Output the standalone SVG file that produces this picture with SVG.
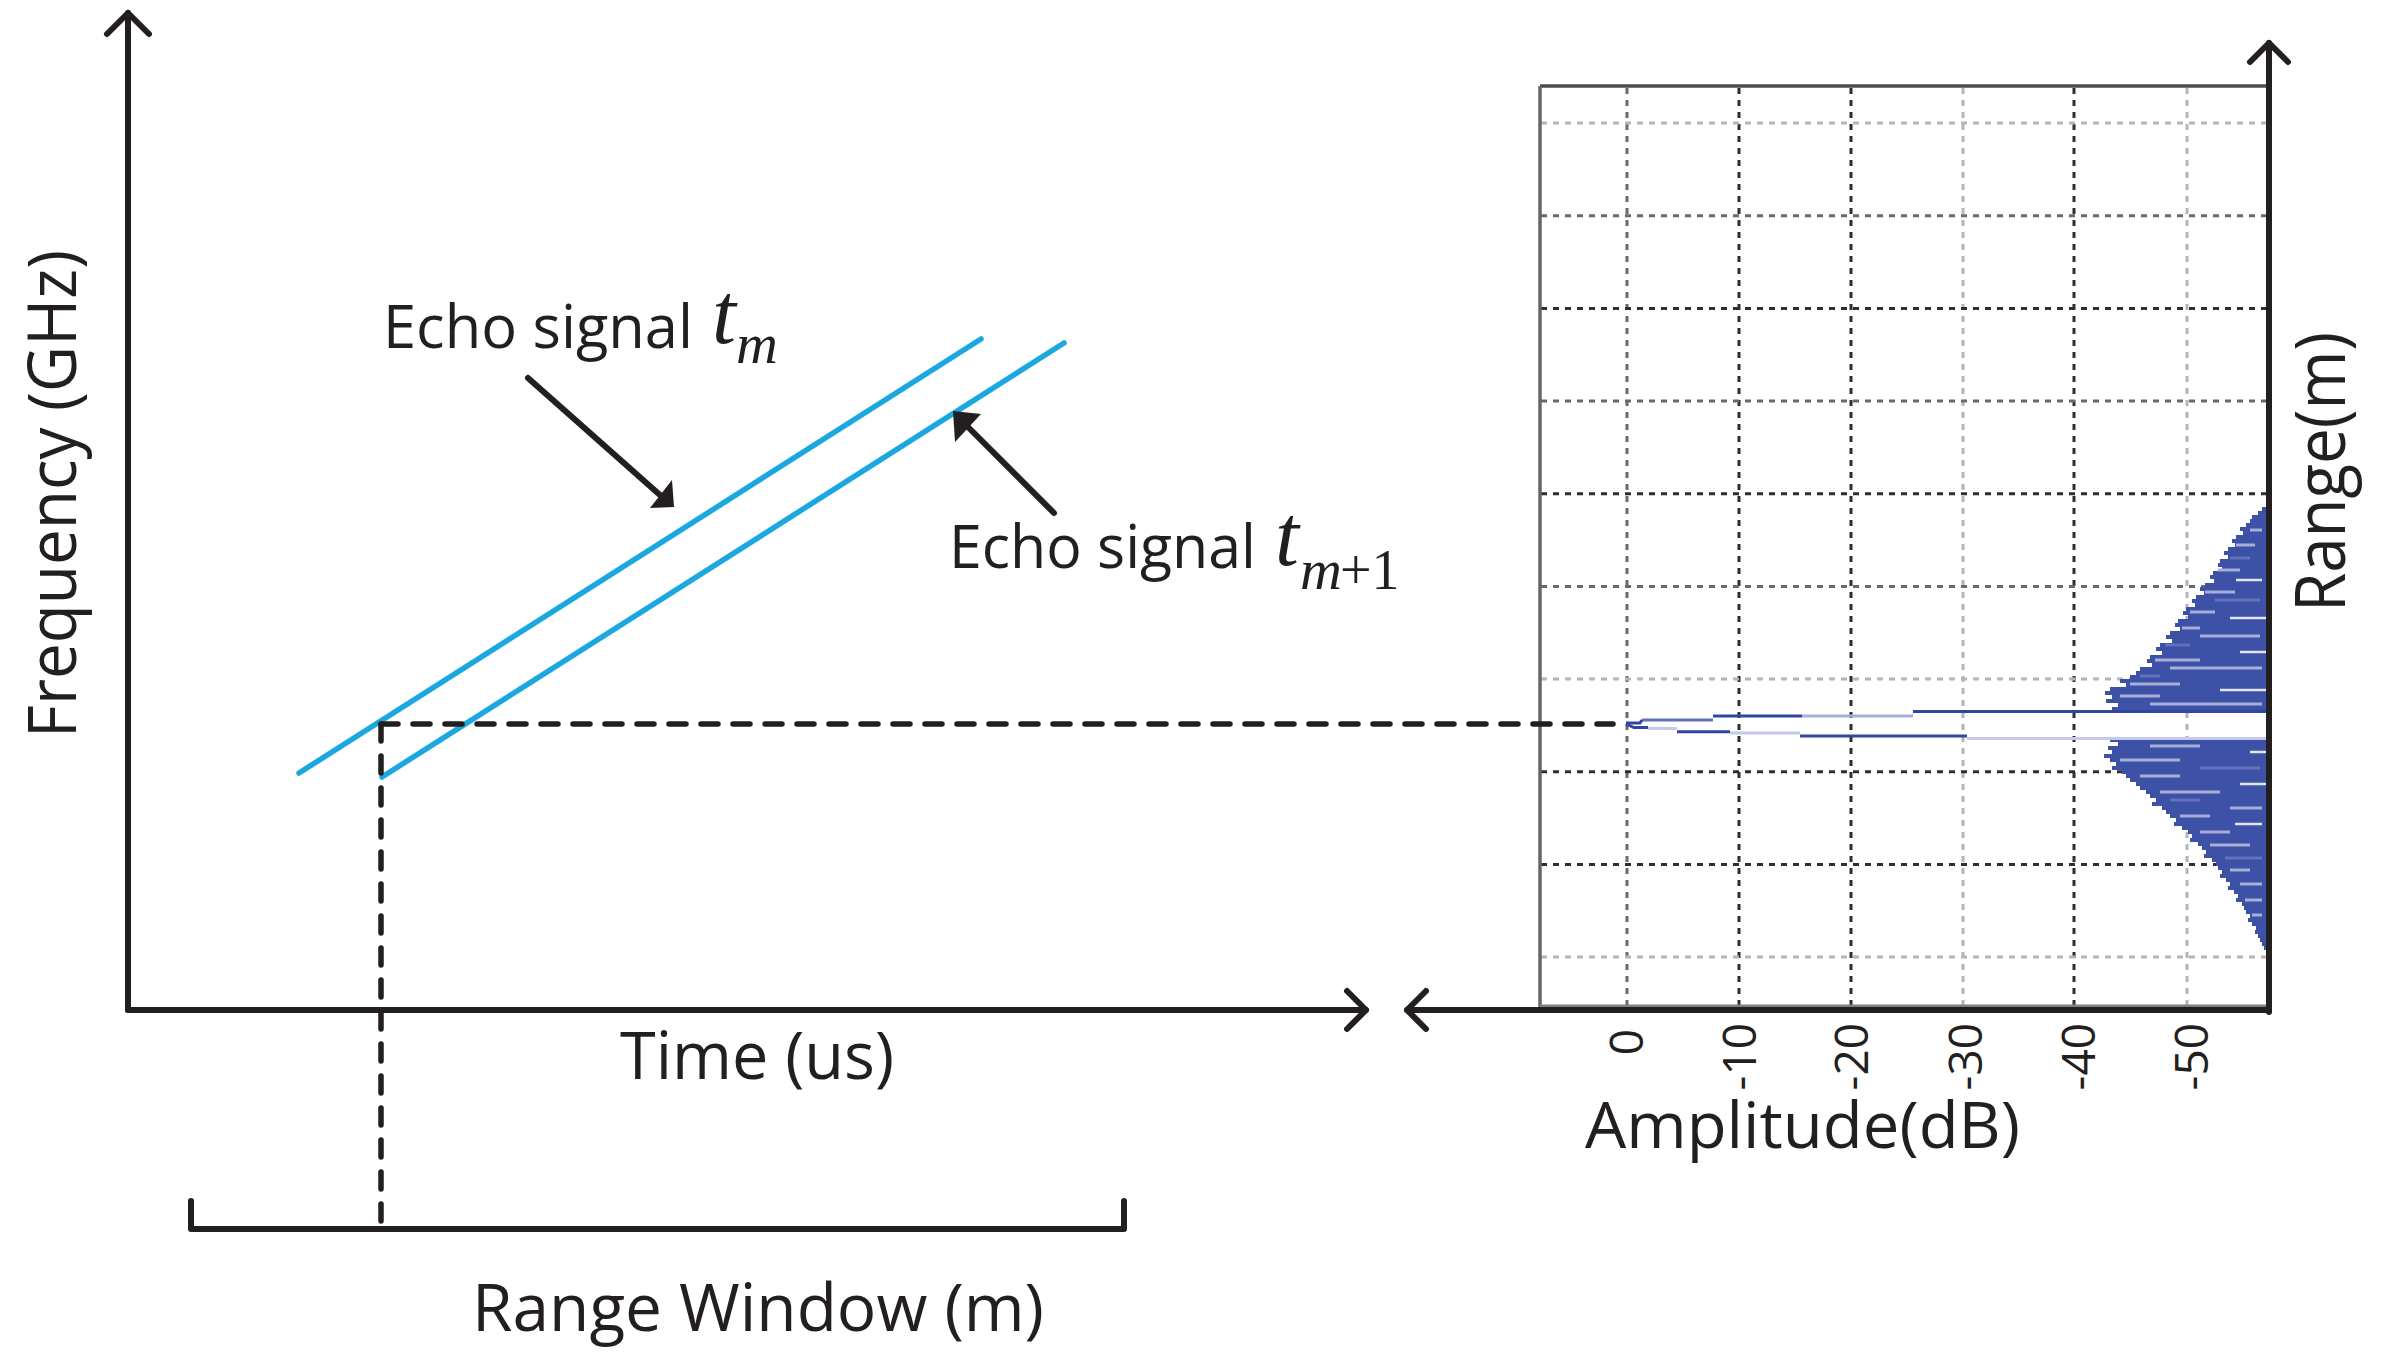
<svg xmlns="http://www.w3.org/2000/svg" width="2385" height="1370" viewBox="0 0 2385 1370">
<defs>
<style>
.lbl{font-family:"Open Sans","Liberation Sans",sans-serif;fill:#231f20}
.tk{font-family:"Open Sans","Liberation Sans",sans-serif;fill:#231f20;font-size:46px}
.mth{font-family:"Liberation Serif","Times New Roman",serif;fill:#231f20}
.ax{stroke:#231f20;stroke-width:6;fill:none;stroke-linecap:round;stroke-linejoin:round}
.dash{stroke:#231f20;stroke-width:5.5;fill:none;stroke-linecap:round;stroke-dasharray:17 15}
.sig{stroke:#1ba8e0;stroke-width:5.5;fill:none;stroke-linecap:round}
.gd{stroke:#2e2e2e;stroke-width:3;stroke-dasharray:6 6;fill:none}
.gm{stroke:#6a6a6a;stroke-width:3;stroke-dasharray:6 6;fill:none}
.gl{stroke:#b5b5b5;stroke-width:3;stroke-dasharray:6 6;fill:none}
.lt{stroke:#a7afd9;stroke-width:3}
.md{stroke:#6271b9;stroke-width:3}
.wt{stroke:#e4e6f5;stroke-width:2.5}
.dk{stroke:#3146a2;stroke-width:3;fill:none}
.lv{stroke:#c6cae8;stroke-width:3;fill:none}
</style>
</defs>
<rect width="2385" height="1370" fill="#ffffff"/>

<g id="spectrum-plot">
  <g id="grid">
    <line class="gm" x1="1627" y1="88" x2="1627" y2="1006"/>
    <line class="gd" x1="1739" y1="88" x2="1739" y2="1006"/>
    <line class="gd" x1="1851" y1="88" x2="1851" y2="1006"/>
    <line class="gl" x1="1963" y1="88" x2="1963" y2="1006"/>
    <line class="gd" x1="2074" y1="88" x2="2074" y2="1006"/>
    <line class="gl" x1="2187" y1="88" x2="2187" y2="1006"/>
    <line class="gl" x1="1541" y1="123" x2="2267" y2="123"/>
    <line class="gm" x1="1541" y1="215.7" x2="2267" y2="215.7"/>
    <line class="gd" x1="1541" y1="308.4" x2="2267" y2="308.4"/>
    <line class="gm" x1="1541" y1="401" x2="2267" y2="401"/>
    <line class="gd" x1="1541" y1="493.7" x2="2267" y2="493.7"/>
    <line class="gm" x1="1541" y1="586.4" x2="2267" y2="586.4"/>
    <line class="gl" x1="1541" y1="679" x2="2267" y2="679"/>
    <line class="gd" x1="1541" y1="771.8" x2="2267" y2="771.8"/>
    <line class="gd" x1="1541" y1="864.5" x2="2267" y2="864.5"/>
    <line class="gl" x1="1541" y1="957" x2="2267" y2="957"/>
  </g>
  <g id="frame">
    <line x1="1540" y1="86" x2="2269" y2="86" stroke="#4d4d4d" stroke-width="3.5"/>
    <line x1="1540" y1="86" x2="1540" y2="1010" stroke="#666" stroke-width="3.5"/>
    <line x1="1540" y1="1006" x2="2268" y2="1006" stroke="#808080" stroke-width="3"/>
  </g>
  <g id="response">
    <path fill="#3d51a7" d="M2269,503 H2266 V507 H2262 V511 H2258 V515 H2252 V519 H2250 V523 H2246 V527 H2240 V531 H2243 V535 H2236 V539 H2232 V543 H2235 V547 H2228 V551 H2224 V555 H2228 V559 H2220 V563 H2218 V567 H2222 V571 H2213 V575 H2210 V579 H2214 V583 H2205 V587 H2200 V591 H2204 V595 H2196 V599 H2192 V603 H2195 V607 H2186 V611 H2183 V615 H2188 V619 H2178 V623 H2175 V627 H2180 V631 H2170 V635 H2166 V639 H2172 V643 H2160 V647 H2156 V651 H2162 V655 H2150 V659 H2147 V663 H2152 V667 H2140 V671 H2136 V675 H2130 V679 H2120 V683 H2126 V687 H2110 V691 H2105 V695 H2112 V699 H2106 V703 H2118 V707 H2112 V710 H2269 Z"/>
    <path fill="#3d51a7" d="M2269,738 H2110 V742 H2118 V746 H2108 V750 H2112 V754 H2104 V758 H2110 V762 H2116 V766 H2112 V770 H2122 V774 H2126 V778 H2130 V782 H2136 V786 H2140 V790 H2146 V794 H2150 V798 H2156 V802 H2152 V806 H2162 V810 H2166 V814 H2170 V818 H2176 V822 H2174 V826 H2182 V830 H2188 V834 H2192 V838 H2190 V842 H2198 V846 H2202 V850 H2206 V854 H2204 V858 H2212 V862 H2216 V866 H2218 V870 H2222 V874 H2220 V878 H2226 V882 H2230 V886 H2228 V890 H2234 V894 H2238 V898 H2236 V902 H2242 V906 H2244 V910 H2246 V914 H2250 V918 H2248 V922 H2252 V926 H2256 V930 H2255 V934 H2258 V938 H2260 V942 H2262 V946 H2264 V950 H2266 V954 H2269 Z"/>
    <line class="lt" x1="2250" y1="530" x2="2262" y2="530"/>
    <line class="lt" x1="2236" y1="545" x2="2255" y2="545"/>
    <line class="md" x1="2230" y1="558" x2="2250" y2="558"/>
    <line class="lt" x1="2218" y1="570" x2="2240" y2="570"/>
    <line class="wt" x1="2236" y1="580" x2="2262" y2="580"/>
    <line class="lt" x1="2205" y1="592" x2="2235" y2="592"/>
    <line class="md" x1="2215" y1="600" x2="2260" y2="600"/>
    <line class="lt" x1="2190" y1="612" x2="2215" y2="612"/>
    <line class="wt" x1="2230" y1="618" x2="2266" y2="618"/>
    <line class="lt" x1="2182" y1="628" x2="2200" y2="628"/>
    <line class="lt" x1="2200" y1="636" x2="2260" y2="636"/>
    <line class="md" x1="2165" y1="645" x2="2190" y2="645"/>
    <line class="wt" x1="2240" y1="652" x2="2266" y2="652"/>
    <line class="lt" x1="2155" y1="660" x2="2200" y2="660"/>
    <line class="lt" x1="2170" y1="668" x2="2262" y2="668"/>
    <line class="md" x1="2140" y1="676" x2="2160" y2="676"/>
    <line class="lt" x1="2130" y1="684" x2="2180" y2="684"/>
    <line class="wt" x1="2220" y1="690" x2="2266" y2="690"/>
    <line class="lt" x1="2120" y1="696" x2="2160" y2="696"/>
    <line class="lt" x1="2150" y1="704" x2="2262" y2="704"/>
    <line class="lt" x1="2150" y1="746" x2="2200" y2="746"/>
    <line class="wt" x1="2250" y1="752" x2="2266" y2="752"/>
    <line class="lt" x1="2120" y1="760" x2="2180" y2="760"/>
    <line class="md" x1="2200" y1="768" x2="2260" y2="768"/>
    <line class="lt" x1="2140" y1="776" x2="2180" y2="776"/>
    <line class="wt" x1="2240" y1="784" x2="2266" y2="784"/>
    <line class="lt" x1="2160" y1="792" x2="2220" y2="792"/>
    <line class="md" x1="2170" y1="800" x2="2200" y2="800"/>
    <line class="lt" x1="2230" y1="808" x2="2262" y2="808"/>
    <line class="lt" x1="2180" y1="816" x2="2210" y2="816"/>
    <line class="wt" x1="2235" y1="824" x2="2262" y2="824"/>
    <line class="lt" x1="2200" y1="832" x2="2230" y2="832"/>
    <line class="lt" x1="2210" y1="845" x2="2250" y2="845"/>
    <line class="md" x1="2225" y1="858" x2="2262" y2="858"/>
    <line class="lt" x1="2230" y1="870" x2="2250" y2="870"/>
    <line class="lt" x1="2240" y1="884" x2="2262" y2="884"/>
    <line class="lt" x1="2245" y1="900" x2="2262" y2="900"/>
    <line class="lt" x1="2252" y1="915" x2="2262" y2="915"/>
    <line class="dk" x1="1913" y1="711.5" x2="2268" y2="711.5"/>
    <line class="lt" x1="1802" y1="716" x2="1913" y2="716"/>
    <line class="dk" x1="1713" y1="716" x2="1802" y2="716"/>
    <line class="md" x1="1642" y1="720" x2="1713" y2="720"/>
    <polyline class="dk" points="1626,723 1640,723 1642,720"/>
    <polyline class="dk" points="1626,724 1634,727.5 1648,727.5"/>
    <line class="lv" x1="1648" y1="728.5" x2="1677" y2="728.5"/>
    <line class="dk" x1="1677" y1="731.7" x2="1730" y2="731.7"/>
    <line class="lv" x1="1730" y1="733" x2="1800" y2="733" stroke-width="5"/>
    <line class="dk" x1="1800" y1="736" x2="1967" y2="736"/>
    <line class="lv" x1="1967" y1="738.5" x2="2268" y2="738.5"/>
  </g>
  <g id="tick-labels">
    <text class="tk" text-anchor="end" transform="translate(1643,1029) rotate(-90)">0</text>
    <text class="tk" text-anchor="end" transform="translate(1756,1023) rotate(-90)">-10</text>
    <text class="tk" text-anchor="end" transform="translate(1868,1023) rotate(-90)">-20</text>
    <text class="tk" text-anchor="end" transform="translate(1982,1023) rotate(-90)">-30</text>
    <text class="tk" text-anchor="end" transform="translate(2095,1023) rotate(-90)">-40</text>
    <text class="tk" text-anchor="end" transform="translate(2208,1023) rotate(-90)">-50</text>
  </g>
  <text id="amplitude-label" class="lbl" x="1585" y="1148" font-size="64" textLength="435" lengthAdjust="spacingAndGlyphs">Amplitude(dB)</text>
  <text id="range-label" class="lbl" font-size="70" textLength="280" lengthAdjust="spacingAndGlyphs" transform="translate(2345,612) rotate(-90)">Range(m)</text>
</g>

<g id="left-axes">
  <text id="frequency-label" class="lbl" font-size="67" textLength="488" lengthAdjust="spacingAndGlyphs" transform="translate(76,738) rotate(-90)">Frequency (GHz)</text>
  <text id="time-label" class="lbl" x="620" y="1079" font-size="66" textLength="274" lengthAdjust="spacingAndGlyphs">Time (us)</text>
</g>

<g id="echo-signals">
  <line id="echo-tm" class="sig" x1="299" y1="773" x2="981" y2="339"/>
  <line id="echo-tm1" class="sig" x1="382" y1="777" x2="1064" y2="343"/>
</g>

<g id="echo-label-1">
  <text class="lbl" x="383" y="348" font-size="60" textLength="310" lengthAdjust="spacingAndGlyphs">Echo signal</text>
  <text class="mth" x="712" y="343" font-size="86" font-style="italic">t</text>
  <text class="mth" x="736" y="363" font-size="58" font-style="italic">m</text>
</g>

<g id="echo-label-2">
  <text class="lbl" x="949" y="568" font-size="61" textLength="307" lengthAdjust="spacingAndGlyphs">Echo signal</text>
  <text class="mth" x="1275" y="565" font-size="86" font-style="italic">t</text>
  <text class="mth" x="1300" y="589" font-size="58" font-style="italic">m</text>
  <text class="mth" x="1340" y="589" font-size="56">+1</text>
</g>

<g id="range-window">
  <path class="ax" d="M191,1201 V1229 H1124 V1201"/>
  <text class="lbl" x="472" y="1331" font-size="66" textLength="572" lengthAdjust="spacingAndGlyphs">Range Window (m)</text>
</g>

<g id="connectors">
  <line class="ax" x1="128" y1="1010" x2="128" y2="13"/>
  <polyline class="ax" points="107,34 128,13 149,34"/>
  <line class="ax" x1="128" y1="1010" x2="1366" y2="1010"/>
  <polyline class="ax" points="1347,991 1366,1010 1347,1029"/>
  <line class="ax" x1="1407" y1="1010" x2="2269" y2="1010"/>
  <polyline class="ax" points="1426,991 1407,1010 1426,1029"/>
  <line class="ax" x1="2269" y1="1012" x2="2269" y2="43"/>
  <polyline class="ax" points="2250,62 2269,43 2288,62"/>
  <line class="dash" x1="381" y1="724" x2="1613" y2="724"/>
  <line class="dash" x1="381" y1="724" x2="381" y2="1229"/>
  <line class="ax" x1="528" y1="378" x2="660" y2="495"/>
  <polygon points="674,507 650,508 672,480" fill="#231f20"/>
  <line class="ax" x1="1054" y1="513" x2="966" y2="425"/>
  <polygon points="953,411 981,414 955,442" fill="#231f20"/>
</g>
</svg>
